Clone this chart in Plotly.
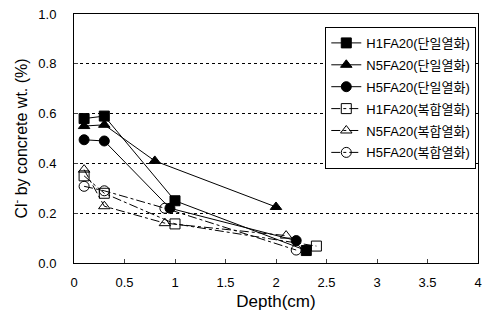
import plotly.graph_objects as go

names = ["H1FA20(단일열화)", "N5FA20(단일열화)", "H5FA20(단일열화)",
         "H1FA20(복합열화)", "N5FA20(복합열화)", "H5FA20(복합열화)"]
x_h1_s = [0.1, 0.3, 1.0, 2.3]
y_h1_s = [0.58, 0.59, 0.25, 0.05]
x_n5_s = [0.1, 0.3, 0.8, 2.0]
y_n5_s = [0.55, 0.555, 0.41, 0.225]
x_h5_s = [0.1, 0.3, 0.95, 2.2]
y_h5_s = [0.495, 0.49, 0.22, 0.09]
x_h1_c = [0.1, 0.3, 1.0, 2.4]
y_h1_c = [0.35, 0.28, 0.157, 0.068]
x_n5_c = [0.1, 0.3, 0.9, 2.1]
y_n5_c = [0.375, 0.228, 0.16, 0.11]
x_h5_c = [0.1, 0.3, 0.9, 2.2]
y_h5_c = [0.308, 0.29, 0.22, 0.052]

series = [
    (x_h1_s, y_h1_s, "square", "solid"),
    (x_n5_s, y_n5_s, "triangle-up", "solid"),
    (x_h5_s, y_h5_s, "circle", "solid"),
    (x_h1_c, y_h1_c, "square-open", "dashdot"),
    (x_n5_c, y_n5_c, "triangle-up-open", "dashdot"),
    (x_h5_c, y_h5_c, "circle-open", "dashdot"),
]

fig = go.Figure()
for i, (name, (xs, ys, sym, dash)) in enumerate(zip(names, series)):
    fig.add_trace(go.Scatter(
        x=xs, y=ys, name=name, mode="lines+markers", legendgroup=f"g{i}",
        line=dict(color="black", width=1, dash=dash),
        marker=dict(symbol=sym, size=10, color="black",
                    line=dict(color="black", width=1)),
    ))

fig.update_layout(
    width=487, height=320,
    margin=dict(l=74, r=5, t=14, b=57),
    paper_bgcolor="white", plot_bgcolor="white",
    font=dict(family="Liberation Sans, Noto Sans CJK KR", size=13, color="black"),
    legend=dict(x=0.622, y=0.948, xanchor="left", yanchor="top",
                bgcolor="white", bordercolor="black", borderwidth=1,
                itemwidth=30, tracegroupgap=2,
                font=dict(family="Liberation Sans, Noto Sans CJK KR", size=13)),
    xaxis=dict(range=[0, 4], dtick=0.5, showline=True, linecolor="black",
               mirror=True, ticks="inside", ticklen=4, showgrid=False,
               zeroline=False, ticklabeloverflow="allow", ticklabelstandoff=7,
               title=dict(text="Depth(cm)", font=dict(size=17), standoff=6)),
    yaxis=dict(range=[0, 1], dtick=0.2, tickformat=".1f", showline=True,
               linecolor="black", mirror=True, ticks="inside", ticklen=4,
               showgrid=True, gridcolor="black", griddash="dot", gridwidth=1,
               zeroline=False, ticklabelstandoff=14,
               title=dict(text="Cl<sup>-</sup> by concrete wt. (%)",
                          font=dict(size=16), standoff=6)),
)

fig.write_html("out.html", post_script="document.body.style.margin='0';",
               config={"displayModeBar": False})
